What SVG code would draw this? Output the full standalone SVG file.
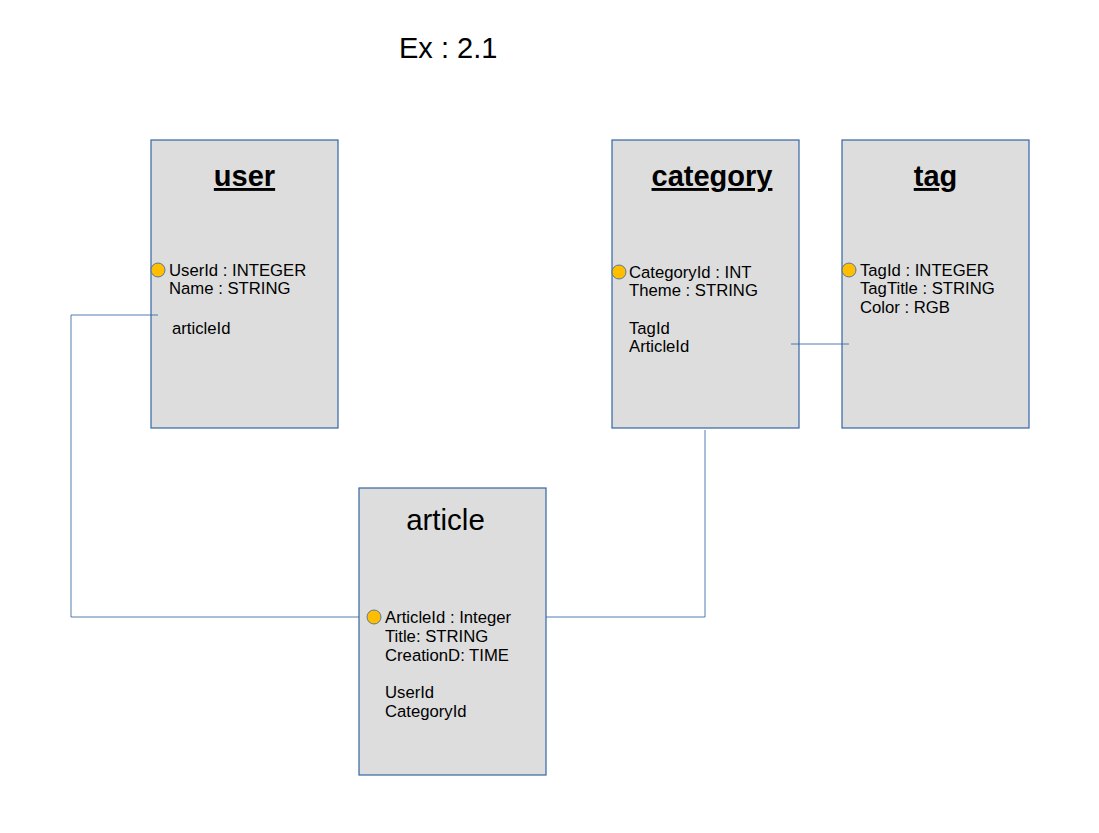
<svg xmlns="http://www.w3.org/2000/svg" width="1099" height="833" viewBox="0 0 1099 833">
<style>
.box{fill:#dddddd;stroke:#3465a4;stroke-width:1.2}
.pk{fill:#ffbf00;stroke:#3465a4;stroke-width:0.8}
.t{font-family:"Liberation Sans",Arial,sans-serif;font-size:16.7px;fill:#000}
.h{font-family:"Liberation Sans",Arial,sans-serif;font-size:29px;font-weight:bold;text-decoration:underline;fill:#000}
.h2{font-family:"Liberation Sans",Arial,sans-serif;font-size:29.5px;fill:#000}
.c{fill:none;stroke:#3465a4;stroke-width:1;stroke-opacity:0.85}
</style>
<rect width="1099" height="833" fill="#fff"/>
<text x="399" y="58" class="t" style="font-size:29px">Ex : 2.1</text>
<g id="user">
<rect class="box" x="151" y="140" width="187" height="288"/>
<text x="244.5" y="186" class="h" text-anchor="middle">user</text>
<circle class="pk" cx="158" cy="270" r="7"/>
<text x="169" y="276" class="t">UserId : INTEGER</text>
<text x="169" y="294" class="t">Name : STRING</text>
<text x="172" y="334" class="t">articleId</text>
</g>
<g id="category">
<rect class="box" x="612" y="140" width="187" height="288"/>
<text x="712" y="186" class="h" text-anchor="middle">category</text>
<circle class="pk" cx="619" cy="272" r="7"/>
<text x="629" y="278" class="t">CategoryId : INT</text>
<text x="629" y="296" class="t">Theme : STRING</text>
<text x="629" y="334" class="t">TagId</text>
<text x="629" y="352" class="t">ArticleId</text>
</g>
<g id="tag">
<rect class="box" x="842" y="140" width="187" height="288"/>
<text x="935.5" y="186" class="h" text-anchor="middle">tag</text>
<circle class="pk" cx="849" cy="270" r="7"/>
<text x="860" y="276" class="t">TagId : INTEGER</text>
<text x="860" y="294" class="t">TagTitle : STRING</text>
<text x="860" y="313" class="t">Color : RGB</text>
</g>
<g id="article">
<rect class="box" x="359" y="488" width="187" height="287"/>
<text x="445.5" y="530" class="h2" text-anchor="middle">article</text>
<circle class="pk" cx="374" cy="617" r="7"/>
<text x="385" y="623" class="t">ArticleId : Integer</text>
<text x="385" y="642" class="t">Title: STRING</text>
<text x="385" y="661" class="t">CreationD: TIME</text>
<text x="385" y="698" class="t">UserId</text>
<text x="385" y="717" class="t">CategoryId</text>
</g>
<g id="connectors">
<polyline class="c" points="158,315 71,315 71,617 359,617"/>
<polyline class="c" points="705,430 705,617 546,617"/>
<line class="c" x1="791" y1="344" x2="849" y2="344"/>
</g>
</svg>
